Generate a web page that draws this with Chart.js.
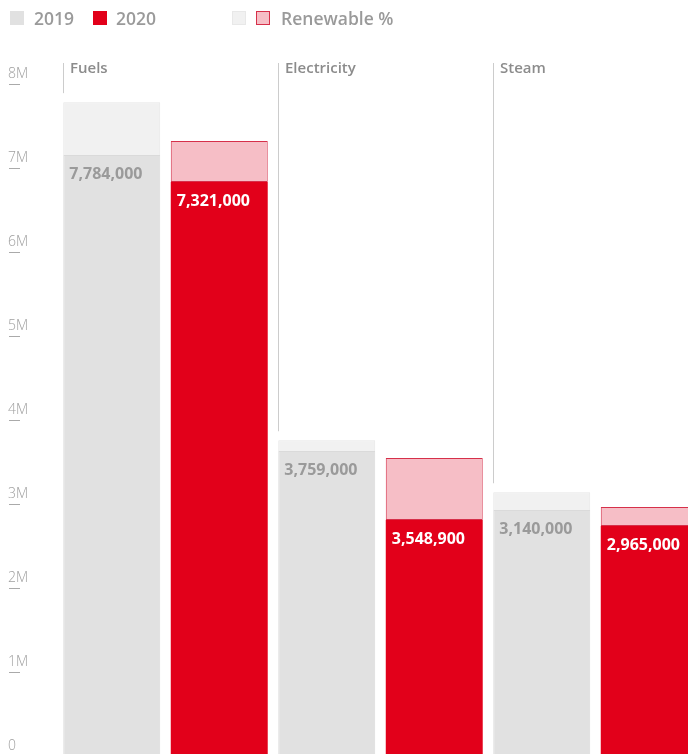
<!DOCTYPE html>
<html>
<head>
<meta charset="utf-8">
<script src="https://cdn.jsdelivr.net/npm/chart.js@4"></script>
<style>
  html, body { margin: 0; padding: 0; overflow: hidden; background: #fff; }
  body { width: 688px; height: 754px; position: relative; font-family: "Open Sans", sans-serif; }
  #energyChart { position: absolute; left: 0; top: 0; }
  .legend { position: absolute; top: 6px; font-size: 17.5px; color: #9a9a9a; font-weight: 600; line-height: 24px; }
  .sw { position: absolute; top: 11px; width: 14px; height: 14px; box-sizing: border-box; }
</style>
</head>
<body>
<canvas id="energyChart" width="703" height="756"></canvas>
<div class="sw" style="left:10px;background:#e1e1e1"></div>
<div class="legend" style="left:34px">2019</div>
<div class="sw" style="left:93px;background:#e2001a"></div>
<div class="legend" style="left:116px">2020</div>
<div class="sw" style="left:232px;background:#f1f1f1;border:1px solid #e8e8e8"></div>
<div class="sw" style="left:256px;background:#f6bec6;border:1px solid #d6304a"></div>
<div class="legend" style="left:281px">Renewable %</div>
<script>
var categories = ['Fuels', 'Electricity', 'Steam'];
var total2019 = [7784000, 3759000, 3140000];
var total2020 = [7321000, 3548900, 2965000];
var renew2019 = [629000, 128000, 211000];
var renew2020 = [488000, 739000, 227000];
var yTicks = [0, 1000000, 2000000, 3000000, 4000000, 5000000, 6000000, 7000000, 8000000];

var base2019 = total2019.map(function (v, i) { return v - renew2019[i]; });
var base2020 = total2020.map(function (v, i) { return v - renew2020[i]; });

var FONT = '"Open Sans", sans-serif';

function fmt(v) {
  return v.toString().replace(/\B(?=(\d{3})+(?!\d))/g, ',');
}

// tick dashes under the y labels
var dashPlugin = {
  id: 'dashes',
  afterDraw: function (chart) {
    var ctx = chart.ctx;
    var y = chart.scales.y;
    ctx.save();
    ctx.strokeStyle = '#aaaaaa';
    ctx.lineWidth = 1;
    yTicks.forEach(function (t) {
      if (t === 0) return;
      var py = Math.round(y.getPixelForValue(t)) + 0.5;
      ctx.beginPath();
      ctx.moveTo(9, py);
      ctx.lineTo(20, py);
      ctx.stroke();
    });
    ctx.restore();
  }
};

// category headers and value labels
var labelPlugin = {
  id: 'labels',
  afterDatasetsDraw: function (chart) {
    var ctx = chart.ctx;
    var m0 = chart.getDatasetMeta(0);
    var m1 = chart.getDatasetMeta(1);
    var m2 = chart.getDatasetMeta(2);
    var m3 = chart.getDatasetMeta(3);
    ctx.save();
    categories.forEach(function (c, i) {
      var bar = m0.data[i];
      var left = Math.round(bar.x - bar.width / 2) + 0.5;
      var top = Math.min(m1.data[i].y, m3.data[i].y);
      ctx.strokeStyle = '#cccccc';
      ctx.lineWidth = 1;
      ctx.beginPath();
      ctx.moveTo(left, 63);
      ctx.lineTo(left, top - 9);
      ctx.stroke();
      ctx.fillStyle = '#8c8c8c';
      ctx.font = '600 15px ' + FONT;
      ctx.textBaseline = 'middle';
      ctx.textAlign = 'left';
      ctx.fillText(c, left + 6.5, 69);

      ctx.font = '700 16px ' + FONT;
      ctx.fillStyle = '#9a9a9a';
      ctx.fillText(fmt(total2019[i]), bar.x - bar.width / 2 + 6, bar.y + 19);
      var b2 = m2.data[i];
      ctx.fillStyle = '#ffffff';
      ctx.fillText(fmt(total2020[i]), b2.x - b2.width / 2 + 6, b2.y + 19);
    });
    ctx.restore();
  }
};

var ctx = document.getElementById('energyChart').getContext('2d');
var energyChart = new Chart(ctx, {
  type: 'bar',
  data: {
    labels: categories,
    datasets: [{
      label: '2019',
      data: base2019,
      stack: 's2019',
      backgroundColor: '#e1e1e1',
      borderColor: '#dadada',
      borderWidth: 1,
      borderSkipped: 'bottom'
    }, {
      label: '2019 renewable',
      data: renew2019,
      stack: 's2019',
      backgroundColor: '#f1f1f1',
      borderColor: '#e6e6e6',
      borderWidth: 1,
      borderSkipped: 'bottom'
    }, {
      label: '2020',
      data: base2020,
      stack: 's2020',
      backgroundColor: '#e2001a',
      borderWidth: 0
    }, {
      label: '2020 renewable',
      data: renew2020,
      stack: 's2020',
      backgroundColor: '#f6bec6',
      borderColor: '#d6304a',
      borderWidth: 1,
      borderSkipped: false
    }]
  },
  options: {
    responsive: false,
    animation: false,
    layout: { autoPadding: false, padding: { left: 8, top: 84, right: 0, bottom: 0 } },
    categoryPercentage: 1.0,
    barPercentage: 0.902,
    plugins: {
      legend: { display: false },
      tooltip: { enabled: false }
    },
    scales: {
      x: {
        stacked: true,
        display: false
      },
      y: {
        stacked: true,
        min: 0,
        max: 8000000,
        afterFit: function (scale) {
          scale.width = 50;
          scale.paddingTop = 0;
          scale.paddingBottom = 0;
        },
        afterBuildTicks: function (scale) {
          scale.ticks = yTicks.map(function (v) { return { value: v }; });
        },
        grid: { display: false },
        border: { display: false },
        ticks: {
          crossAlign: 'far',
          labelOffset: -10,
          color: '#a0a0a0',
          font: { family: FONT, size: 14, weight: '300' },
          callback: function (v) { return v === 0 ? '0' : (v / 1000000) + 'M'; }
        }
      }
    }
  },
  plugins: [dashPlugin, labelPlugin]
});
</script>
</body>
</html>
